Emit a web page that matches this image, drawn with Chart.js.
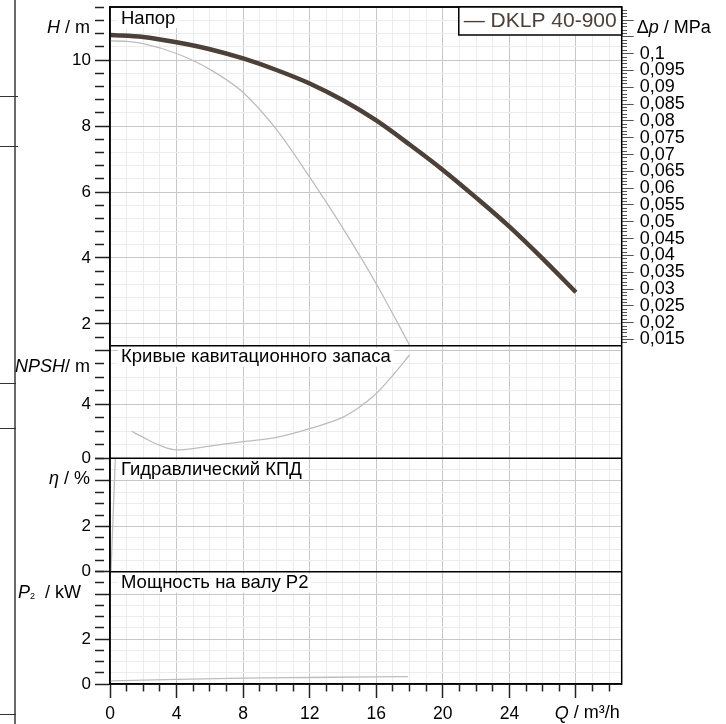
<!DOCTYPE html>
<html>
<head>
<meta charset="utf-8">
<script src="https://cdn.jsdelivr.net/npm/chart.js@4.4.1/dist/chart.umd.min.js"></script>
<style>
  html, body { margin: 0; padding: 0; background: #fff; }
  #wrap { position: relative; width: 726px; height: 724px; overflow: hidden; }
  #wrap canvas { position: absolute; left: 0; top: 0; }
  .frame-v { position: absolute; left: 14px; top: 0; width: 1.5px; height: 724px; background: #6a6a6a; }
  .frame-h { position: absolute; left: 0; width: 16px; height: 1px; background: #333; }
</style>
</head>
<body>
<div id="wrap">
  <div class="frame-v"></div>
  <div class="frame-h" style="top:96px;width:18px"></div>
  <div class="frame-h" style="top:146px;width:18px"></div>
  <div class="frame-h" style="top:383px"></div>
  <div class="frame-h" style="top:428px"></div>
  <div class="frame-h" style="top:714px"></div>
  <canvas id="pumpChart" width="726" height="724"></canvas>
</div>
<script>
// --- 1. DATA ---
const qHead    = [0, 2, 4, 6, 8, 10, 12, 14, 16, 18, 20, 22, 24, 26, 28];
const headMain = [10.76, 10.70, 10.54, 10.33, 10.05, 9.70, 9.29, 8.78, 8.17, 7.44, 6.67, 5.83, 4.95, 3.98, 2.96];

const qHeadLow = [0, 1, 2, 4, 6, 8, 10, 12, 14, 16, 18];
const headLow  = [10.58, 10.57, 10.50, 10.20, 9.72, 9.02, 7.90, 6.45, 4.90, 3.22, 1.36];

const qNpsh = [1.3, 2, 3, 4, 6, 8, 10, 12, 14, 15, 16, 17, 18];
const npsh  = [2.0, 1.55, 0.95, 0.62, 0.9, 1.23, 1.55, 2.2, 3.05, 3.8, 4.8, 6.15, 7.65];

const qEta = [0.06, 0.32];
const eta  = [0, 5.0];

const qPower = [0, 4, 8, 12, 16, 17.9];
const power  = [0.14, 0.21, 0.26, 0.29, 0.32, 0.33];

// tick labels that are printed (others are bare tick marks)
const xTickLabels     = [0, 4, 8, 12, 16, 20, 24];
const hTickLabels     = [2, 4, 6, 8, 10];
const npshTickLabels  = [0, 4];
const etaTickLabels   = [0, 2];
const powerTickLabels = [0, 2];
const dpTickLabels    = [0.1, 0.095, 0.09, 0.085, 0.08, 0.075, 0.07, 0.065, 0.06,
                         0.055, 0.05, 0.045, 0.04, 0.035, 0.03, 0.025, 0.02, 0.015];

// --- 2. STYLE / HELPERS ---
const FONT = '"Liberation Sans", Arial, sans-serif';
const GRID_MINOR = '#ececec';
const GRID_MAJOR = '#c8c8c8';
const CURVE_GRAY = '#bdbdbd';
const CURVE_MAIN = '#4d4039';
const MPA_PER_M = 0.00981; // water, rho*g

const H_MIN = 1.34, H_MAX = 11.61;

Chart.defaults.font.family = FONT;
Chart.defaults.font.size = 17;
Chart.defaults.color = '#000';

const pts = (xs, ys) => xs.map((x, i) => ({ x: x, y: ys[i] }));
const onStep = (v, s) => Math.abs(v / s - Math.round(v / s)) < 1e-6;
const hasValue = (list, v) => list.some(a => Math.abs(a - v) < 1e-6);

// ticks at every multiple of "step" inside the axis range
function stepTicks(step) {
    return (scale) => {
        const out = [];
        for (let k = Math.ceil(scale.min / step - 1e-9); k * step <= scale.max + 1e-9; k++) {
            out.push({ value: +(k * step).toFixed(6) });
        }
        scale.ticks = out;
    };
}

function panelAxis({ min, max, step, major, labels, weight, stackWeight }) {
    return {
        type: 'linear', position: 'left', stack: 'panels', stackWeight: stackWeight, weight: weight,
        min: min, max: max, bounds: 'data',
        afterBuildTicks: stepTicks(step),
        afterFit: (s) => { s.width = 110; s.paddingTop = 0; s.paddingBottom = 0; },
        border: { color: '#000', width: 1.5 },
        grid: {
            color: (c) => c.tick && onStep(c.tick.value, major) ? GRID_MAJOR : GRID_MINOR,
            tickColor: '#222', tickLength: 15, tickWidth: 1.5,
            tickBorderDash: (c) => c.tick && onStep(c.tick.value, major) ? [] : [9, 100]
        },
        ticks: {
            autoSkip: false, padding: 4,
            callback: (v) => hasValue(labels, v) ? String(Math.round(v)) : ''
        }
    };
}

function hiddenRight(weight, stackWeight) {
    return { type: 'linear', display: false, position: 'right', stack: 'side', weight: weight, stackWeight: stackWeight };
}

function lineSet(label, data, axis, color, width) {
    return {
        label: label, data: data, yAxisID: axis,
        borderColor: color, backgroundColor: color, borderWidth: width,
        pointRadius: 0, fill: false, cubicInterpolationMode: 'monotone'
    };
}

// draws "H / m" style labels with an italic symbol
function richText(ctx, parts, x, y, align) {
    const fontFor = (p) => (p.italic ? 'italic ' : '') + (p.size || 18) + 'px ' + FONT;
    let total = 0;
    parts.forEach(p => { ctx.font = fontFor(p); p.w = ctx.measureText(p.t).width; total += p.w; });
    let cx = align === 'right' ? x - total : x;
    ctx.textAlign = 'left';
    parts.forEach(p => {
        ctx.font = fontFor(p);
        ctx.fillText(p.t, cx, y + (p.dy || 0));
        cx += p.w;
    });
}

// --- 3. PLUGINS ---
// keep every curve inside its own panel
const panelClip = {
    id: 'panelClip',
    beforeDatasetDraw(chart, args) {
        const ys = chart.scales[args.meta.yAxisID];
        const a = chart.chartArea;
        chart.ctx.save();
        chart.ctx.beginPath();
        chart.ctx.rect(a.left, ys.top, a.right - a.left, ys.bottom - ys.top);
        chart.ctx.clip();
    },
    afterDatasetDraw(chart) {
        chart.ctx.restore();
    }
};

const panels = [
    { id: 'yH',    title: 'Напор',                        axis: [{ t: 'H', italic: true }, { t: ' / m' }], right: 90 },
    { id: 'yNpsh', title: 'Кривые кавитационного запаса', axis: [{ t: 'NPSH', italic: true }, { t: '/ m' }], right: 90 },
    { id: 'yEta',  title: 'Гидравлический КПД',           axis: [{ t: 'η', italic: true }, { t: ' / %' }], right: 90 },
    { id: 'yP2',   title: 'Мощность на валу P2',          axis: [{ t: 'P', italic: true }, { t: '2', size: 9, dy: 4 }, { t: '  / kW' }], right: 81 }
];

const sheetDecor = {
    id: 'sheetDecor',
    afterDraw(chart) {
        const { ctx, chartArea: a } = chart;
        ctx.save();

        // panel frames
        ctx.strokeStyle = '#000';
        ctx.lineWidth = 1.5;
        ctx.strokeRect(a.left, a.top, a.right - a.left, a.bottom - a.top);
        panels.forEach(p => {
            const s = chart.scales[p.id];
            ctx.beginPath();
            ctx.moveTo(a.left, s.top);
            ctx.lineTo(a.right, s.top);
            ctx.stroke();
        });

        // panel titles + axis titles
        ctx.textBaseline = 'middle';
        panels.forEach(p => {
            const s = chart.scales[p.id];
            ctx.font = '18.5px ' + FONT;
            const w = ctx.measureText(p.title).width;
            ctx.fillStyle = '#fff';
            ctx.fillRect(a.left + 8, s.top + 2, w + 6, 19);
            ctx.fillStyle = '#000';
            ctx.textAlign = 'left';
            ctx.fillText(p.title, a.left + 11, s.top + 11.5);
            richText(ctx, p.axis, p.right, s.top + 21, 'right');
        });
        richText(ctx, [{ t: 'Δ' }, { t: 'p', italic: true }, { t: ' / MPa' }], a.right + 15, a.top + 21, 'left');
        richText(ctx, [{ t: 'Q', italic: true }, { t: ' / m³/h' }], a.right - 2, 713.5, 'right');

        // legend box
        const ds = chart.data.datasets[0];
        ctx.font = '21px ' + FONT;
        const txt = '— ' + ds.label;
        const tw = ctx.measureText(txt).width;
        const bx = a.right - tw - 10;
        ctx.fillStyle = '#fff';
        ctx.fillRect(bx, a.top, a.right - bx, 28);
        ctx.strokeRect(bx, a.top, a.right - bx, 28);
        ctx.fillStyle = ds.borderColor;
        ctx.textAlign = 'left';
        ctx.fillText(txt, bx + 5, a.top + 14.5);

        ctx.restore();
    }
};

// --- 4. CHART ---
new Chart(document.getElementById('pumpChart'), {
    type: 'line',
    data: {
        datasets: [
            lineSet('DKLP 40-900', pts(qHead, headMain), 'yH', CURVE_MAIN, 4.5),
            lineSet('H min', pts(qHeadLow, headLow), 'yH', CURVE_GRAY, 1.3),
            lineSet('NPSH', pts(qNpsh, npsh), 'yNpsh', CURVE_GRAY, 1.3),
            lineSet('eta', pts(qEta, eta), 'yEta', CURVE_GRAY, 1.3),
            lineSet('P2', pts(qPower, power), 'yP2', CURVE_GRAY, 1.3)
        ]
    },
    options: {
        responsive: false,
        animation: false,
        layout: { padding: { top: 7, left: 0, right: 0, bottom: 0 } },
        plugins: { legend: { display: false }, tooltip: { enabled: false } },
        scales: {
            x: {
                type: 'linear', position: 'bottom', min: 0, max: 30.75, bounds: 'data',
                afterBuildTicks: stepTicks(1),
                afterFit: (s) => { s.height = 40; s.paddingLeft = 0; s.paddingRight = 0; },
                border: { color: '#000', width: 1.5 },
                grid: {
                    color: (c) => c.tick && onStep(c.tick.value, 4) ? GRID_MAJOR : GRID_MINOR,
                    tickColor: '#222', tickLength: 14, tickWidth: 1.5,
                    tickBorderDash: (c) => c.tick && onStep(c.tick.value, 4) ? [] : [7, 100]
                },
                ticks: {
                    autoSkip: false, maxRotation: 0, padding: 6, font: { size: 17.5 },
                    callback: (v) => hasValue(xTickLabels, v) ? String(Math.round(v)) : ''
                }
            },
            yH:    panelAxis({ min: H_MIN, max: H_MAX, step: 0.4, major: 2, labels: hTickLabels, weight: 4, stackWeight: 338.7 }),
            yNpsh: panelAxis({ min: 0, max: 8.34, step: 1, major: 4, labels: npshTickLabels, weight: 3, stackWeight: 112.6 }),
            yEta:  panelAxis({ min: 0, max: 5, step: 0.5, major: 2, labels: etaTickLabels, weight: 2, stackWeight: 113.4 }),
            yP2:   panelAxis({ min: 0, max: 5, step: 0.5, major: 2, labels: powerTickLabels, weight: 1, stackWeight: 112.3 }),
            dp: {
                type: 'linear', position: 'right', stack: 'side', weight: 1, stackWeight: 338.7,
                min: H_MIN * MPA_PER_M, max: H_MAX * MPA_PER_M, bounds: 'data',
                afterBuildTicks: stepTicks(0.001),
                afterFit: (s) => { s.width = 104.3; s.paddingTop = 0; s.paddingBottom = 0; },
                border: { color: '#000', width: 1 },
                grid: {
                    drawOnChartArea: false,
                    tickColor: '#555', tickLength: 12, tickWidth: 1,
                    tickBorderDash: (c) => c.tick && onStep(c.tick.value, 0.005) ? [] : [5, 100]
                },
                ticks: {
                    autoSkip: false, padding: 6, font: { size: 18 },
                    callback: (v) => hasValue(dpTickLabels, v) ? String(+v.toFixed(3)).replace('.', ',') : ''
                }
            },
            rNpsh: hiddenRight(2, 112.6),
            rEta:  hiddenRight(3, 113.4),
            rP2:   hiddenRight(4, 112.3)
        }
    },
    plugins: [panelClip, sheetDecor]
});
</script>
</body>
</html>
